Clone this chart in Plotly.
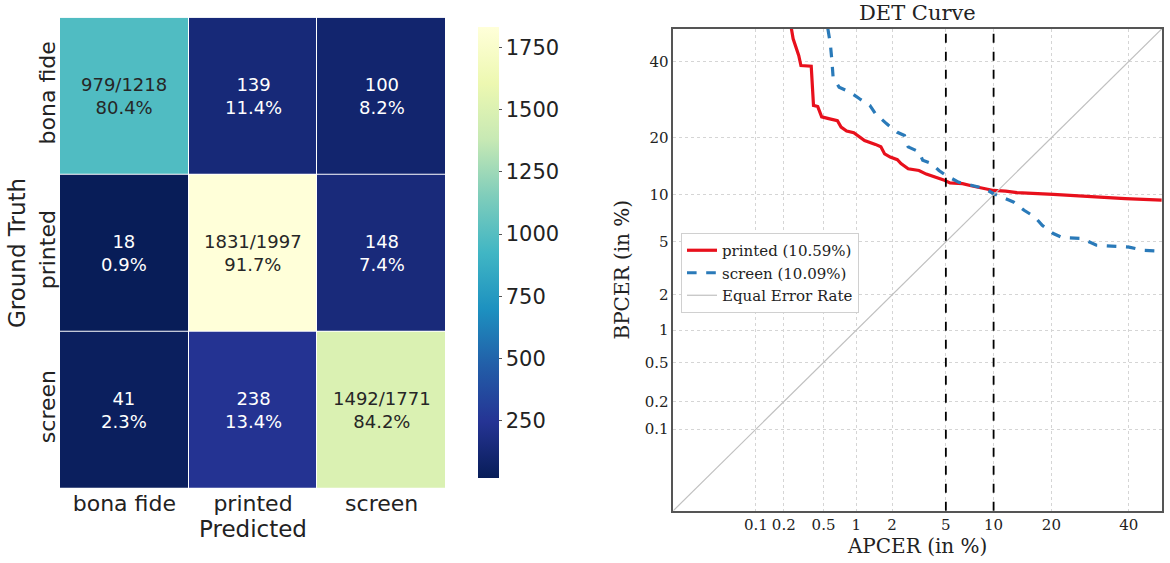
from statistics import NormalDist
import plotly.graph_objects as go

# confusion matrix (rows = ground truth, cols = predicted)
classes = ["bona fide", "printed", "screen"]
counts = [
    [979, 139, 100],
    [18, 1831, 148],
    [41, 238, 1492],
]

# DET curves, values in %
printed_apcer = [0.24, 0.25, 0.285, 0.30, 0.38, 0.40, 0.44, 0.457, 0.48, 0.56, 0.675, 0.73, 0.82,
                 0.95, 1.08, 1.18, 1.46, 1.62, 1.74, 1.93, 2.2, 2.35, 2.67, 3.22, 3.64, 4.11, 4.89,
                 5.33, 6.45, 7.56, 8.8, 10.0, 11.7, 13.5, 20.4, 24.5, 33.9, 39.0, 49.9]
printed_bpcer = [50.0, 46.9, 41.8, 38.8, 38.6, 27.7, 27.4, 26.4, 24.8, 24.4, 23.9, 22.4, 21.5,
                 21.1, 20.2, 19.4, 18.6, 18.1, 16.7, 16.1, 15.6, 14.9, 14.0, 13.7, 13.1, 12.7, 12.1,
                 11.7, 11.6, 11.2, 10.9, 10.6, 10.5, 10.3, 10.05, 9.9, 9.7, 9.5, 9.3]
screen_apcer = [0.55, 0.58, 0.60, 0.616, 0.70, 0.88, 1.06, 1.31, 1.46, 1.80, 2.2, 2.5, 2.67, 3.22,
                3.43, 3.98, 4.48, 5.0, 6.1, 7.55, 8.8, 10.0, 11.2, 12.9, 14.7, 16.7, 18.1, 20.4,
                22.4, 27.1, 30.9, 40.1, 44.4, 49.9]
screen_bpcer = [50.0, 45.4, 40.3, 35.4, 32.6, 31.2, 29.5, 27.7, 25.6, 23.2, 21.2, 20.5, 18.1, 17.1,
                15.5, 14.9, 13.7, 12.9, 11.8, 11.3, 10.9, 10.15, 9.7, 9.06, 8.06, 7.3, 6.46, 5.7,
                5.35, 5.27, 4.74, 4.6, 4.36, 4.3]
det_ticks = [0.1, 0.2, 0.5, 1, 2, 5, 10, 20, 40]
eer_printed = 10.59
eer_screen = 10.09
thresholds = [5, 10]

nd = NormalDist()


def probit(v):
    return [nd.inv_cdf(p / 100.0) for p in v]


W, H = 1170, 563


def px_x(a, b):
    return [a / W, b / W]


def px_y(top, bottom):
    return [(H - bottom) / H, (H - top) / H]


# seaborn YlGnBu reversed
ylgnbu_r = ["#081d58", "#253494", "#225ea8", "#1d91c0", "#41b6c4",
            "#7fcdbb", "#c7e9b4", "#edf8b1", "#ffffd9"]
cscale = [[i / 8, c] for i, c in enumerate(ylgnbu_r)]

hm_l, hm_r, hm_top, hm_bot = 60, 446, 17.7, 488.3

fig = go.Figure()

fig.add_trace(go.Heatmap(
    z=counts, x=classes, y=classes, colorscale=cscale,
    xgap=1, ygap=1, showscale=True,
    colorbar=dict(
        x=468 / W, xanchor="left", y=(H - hm_bot) / H, yanchor="bottom",
        len=(hm_bot - hm_top) / H, lenmode="fraction", thickness=21,
        outlinewidth=0, tickvals=[250, 500, 750, 1000, 1250, 1500, 1750],
        ticks="outside", ticklen=3, tickcolor="#555",
        tickfont=dict(family="DejaVu Sans", size=21, color="#222"),
    ),
    xaxis="x", yaxis="y", hoverinfo="skip",
))

zmin = min(min(r) for r in counts)
zmax = max(max(r) for r in counts)
for i, row in enumerate(counts):
    tot = sum(row)
    for j, c in enumerate(row):
        first = f"{c}/{tot}" if i == j else f"{c}"
        frac = (c - zmin) / (zmax - zmin)
        fig.add_annotation(
            x=classes[j], y=classes[i], xref="x", yref="y",
            text=f"{first}<br>{100 * c / tot:.1f}%", showarrow=False,
            font=dict(family="DejaVu Sans", size=18,
                      color="#262626" if frac > 0.45 else "white"),
        )

# DET curves
fig.add_trace(go.Scatter(
    x=probit(printed_apcer), y=probit(printed_bpcer), mode="lines",
    line=dict(color="#e8101c", width=3.2),
    name=f"printed ({eer_printed:.2f}%)", xaxis="x2", yaxis="y2",
))
fig.add_trace(go.Scatter(
    x=probit(screen_apcer), y=probit(screen_bpcer), mode="lines",
    line=dict(color="#2a7ab9", width=3.2, dash="dash"),
    name=f"screen ({eer_screen:.2f}%)", xaxis="x2", yaxis="y2",
))
lo, hi = nd.inv_cdf(0.0001), 0.0
fig.add_trace(go.Scatter(
    x=[lo, hi], y=[lo, hi], mode="lines",
    line=dict(color="#c0c0c0", width=1.2),
    name="Equal Error Rate", xaxis="x2", yaxis="y2",
))

for t in thresholds:
    fig.add_shape(type="line", xref="x2", yref="y2 domain",
                  x0=nd.inv_cdf(t / 100), x1=nd.inv_cdf(t / 100), y0=0, y1=1,
                  line=dict(color="black", width=1.8, dash="dash"))

serif = dict(family="DejaVu Serif", size=15, color="#222")
tickpos = probit(det_ticks)
ticktxt = [f"{t:g}" for t in det_ticks]
det_l, det_r, det_t, det_b = 673.3, 1162, 28.7, 510.7

fig.update_layout(
    width=W, height=H, margin=dict(l=0, r=0, t=0, b=0, autoexpand=False),
    paper_bgcolor="white", plot_bgcolor="white",
    font=dict(family="DejaVu Sans", color="#222"),
    xaxis=dict(domain=px_x(hm_l, hm_r), anchor="y", showgrid=False, zeroline=False,
               automargin=False, tickfont=dict(size=22, color="#222"), ticks="",
               title=dict(text="Predicted", font=dict(size=23, color="#222"), standoff=0)),
    yaxis=dict(domain=px_y(hm_top, hm_bot), anchor="x", autorange="reversed",
               showgrid=False, zeroline=False, tickangle=-90, automargin=False,
               tickfont=dict(size=22, color="#222"), ticks="",
               title=dict(text="Ground Truth", font=dict(size=23, color="#222"), standoff=2)),
    xaxis2=dict(domain=px_x(det_l, det_r), anchor="y2", range=[lo, hi],
                tickvals=tickpos, ticktext=ticktxt, tickfont=serif, tickangle=0,
                showgrid=True, gridcolor="#d5d5d5", griddash="dot", gridwidth=1,
                zeroline=False, showline=True, linecolor="#555", linewidth=1.5, mirror=True,
                ticks="", automargin=False,
                title=dict(text="APCER (in %)", font=dict(family="DejaVu Serif", size=20, color="#222"),
                           standoff=4)),
    yaxis2=dict(domain=px_y(det_t, det_b), anchor="x2", range=[lo, hi],
                tickvals=tickpos, ticktext=ticktxt, tickfont=serif,
                showgrid=True, gridcolor="#d5d5d5", griddash="dot", gridwidth=1,
                zeroline=False, showline=True, linecolor="#555", linewidth=1.5, mirror=True,
                ticks="", automargin=False,
                title=dict(text="BPCER (in %)", font=dict(family="DejaVu Serif", size=20, color="#222"),
                           standoff=10)),
    legend=dict(x=681 / W, y=(H - 233) / H, xanchor="left", yanchor="top",
                bgcolor="white", bordercolor="#d0d0d0", borderwidth=1,
                font=dict(family="DejaVu Serif", size=15, color="#222"),
                tracegroupgap=0),
    showlegend=True,
)

fig.add_annotation(text="DET Curve", xref="paper", yref="paper",
                   x=(det_l + det_r) / 2 / W, y=(H - 27) / H, xanchor="center", yanchor="bottom",
                   showarrow=False, font=dict(family="DejaVu Serif", size=21, color="#222"))

# the page's default body margin would offset the figure by 8px
fig.write_html("out.html", config={"displayModeBar": False},
               post_script="document.body.style.margin='0';")
